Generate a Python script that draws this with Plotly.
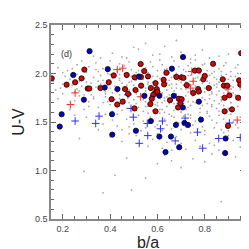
import plotly.graph_objects as go

# ---- data ----
red_x = [0.153, 0.216, 0.252, 0.279, 0.291, 0.305, 0.312, 0.359, 0.394, 0.415,
         0.406, 0.430, 0.453, 0.463, 0.470, 0.476, 0.504, 0.503, 0.530, 0.507,
         0.529, 0.544, 0.560, 0.531, 0.592, 0.572, 0.597, 0.590, 0.600, 0.582,
         0.576, 0.570, 0.592, 0.626, 0.628, 0.638, 0.653, 0.680, 0.702, 0.710,
         0.690, 0.702, 0.687, 0.697, 0.724, 0.758, 0.775, 0.751, 0.772, 0.775,
         0.794, 0.800, 0.817, 0.835, 0.876, 0.881, 0.895, 0.884, 0.904, 0.884,
         0.915, 0.941, 0.954, 0.945, 0.950, 0.898]
red_y = [1.95, 1.885, 1.91, 1.95, 2.04, 1.845, 1.845, 1.85, 1.91, 1.98,
         1.735, 1.68, 1.71, 1.84, 1.985, 1.79, 1.96, 1.64, 1.965, 1.83,
         2.098, 2.025, 1.97, 1.875, 1.90, 1.85, 1.84, 1.80, 1.81, 1.78,
         1.74, 1.685, 1.61, 1.935, 1.888, 2.008, 1.725, 1.965, 1.96, 1.955,
         1.74, 1.735, 1.65, 1.695, 1.88, 2.03, 2.03, 1.80, 1.84, 1.815,
         1.94, 1.975, 1.85, 2.10, 1.94, 1.875, 1.875, 1.75, 1.775, 1.61,
         1.63, 1.75, 2.21, 1.93, 1.885, 1.46]

blue_x = [0.313, 0.244, 0.390, 0.521, 0.708, 0.661, 0.195, 0.187, 0.289, 0.377,
          0.431, 0.408, 0.409, 0.545, 0.608, 0.669, 0.707, 0.775, 0.572, 0.509,
          0.608, 0.678, 0.714, 0.729, 0.784, 0.657, 0.692, 0.634, 0.888, 0.886,
          0.966]
blue_y = [2.23, 1.985, 2.045, 1.968, 2.17, 2.05, 1.58, 1.453, 1.73, 1.855,
          1.84, 1.58, 1.37, 1.77, 1.77, 1.77, 1.65, 1.71, 1.51, 1.41,
          1.35, 1.47, 1.49, 1.47, 1.525, 1.35, 1.24, 1.19, 1.33, 1.18,
          1.07]

red_plus_x = [0.232, 0.252, 0.430, 0.453, 0.529, 0.745, 0.751, 0.740, 0.697, 0.898, 0.937]
red_plus_y = [1.68, 1.80, 2.04, 2.055, 1.76, 2.02, 1.92, 1.85, 1.69, 1.84, 1.52]

blue_plus_x = [0.252, 0.353, 0.339, 0.498, 0.523, 0.559, 0.557, 0.488, 0.621, 0.613,
               0.717, 0.675, 0.769, 0.791, 0.859, 0.904, 0.950, 0.475]
blue_plus_y = [1.51, 1.56, 1.485, 1.55, 1.28, 1.36, 1.485, 1.64, 1.51, 1.43,
               1.54, 1.305, 1.395, 1.23, 1.33, 1.49, 1.34, 1.78]

gray_x = [
    0.33, 0.41, 0.47, 0.52, 0.58, 0.63, 0.66, 0.70, 0.76, 0.82,
    0.36, 0.45, 0.55, 0.61, 0.68, 0.74, 0.79, 0.86, 0.90, 0.50,
    0.18, 0.22, 0.26, 0.30, 0.34, 0.37, 0.40, 0.43, 0.46, 0.49,
    0.52, 0.55, 0.57, 0.60, 0.62, 0.64, 0.67, 0.69, 0.72, 0.74,
    0.77, 0.79, 0.81, 0.84, 0.86, 0.88, 0.91, 0.93, 0.20, 0.28,
    0.35, 0.44, 0.51, 0.58, 0.65, 0.71, 0.76, 0.83, 0.89, 0.94,
    0.31, 0.39, 0.48, 0.54, 0.61, 0.68, 0.73, 0.80, 0.87, 0.24,
    0.16, 0.19, 0.21, 0.24, 0.27, 0.29, 0.32, 0.34, 0.36, 0.38,
    0.40, 0.42, 0.44, 0.46, 0.48, 0.50, 0.52, 0.54, 0.56, 0.58,
    0.60, 0.62, 0.64, 0.66, 0.68, 0.70, 0.72, 0.74, 0.76, 0.78,
    0.80, 0.82, 0.84, 0.86, 0.88, 0.90, 0.92, 0.94, 0.17, 0.23,
    0.26, 0.31, 0.35, 0.39, 0.43, 0.47, 0.51, 0.55, 0.59, 0.63,
    0.67, 0.71, 0.75, 0.79, 0.83, 0.87, 0.91, 0.95, 0.20, 0.28,
    0.33, 0.37, 0.41, 0.45, 0.49, 0.53, 0.57, 0.61, 0.65, 0.69,
    0.73, 0.77, 0.81, 0.85, 0.89, 0.93, 0.25, 0.30, 0.44, 0.58,
    0.62, 0.66, 0.70, 0.74, 0.78, 0.82, 0.86, 0.90, 0.52, 0.48,
    0.36, 0.40, 0.55, 0.64, 0.68, 0.72, 0.79, 0.84, 0.92, 0.96,
    0.18, 0.22, 0.27, 0.31, 0.35, 0.38, 0.42, 0.45, 0.48, 0.51,
    0.53, 0.56, 0.58, 0.61, 0.63, 0.65, 0.68, 0.70, 0.73, 0.75,
    0.78, 0.80, 0.83, 0.85, 0.88, 0.91, 0.94, 0.20, 0.25, 0.33,
    0.40, 0.44, 0.47, 0.50, 0.54, 0.57, 0.60, 0.64, 0.67, 0.71,
    0.74, 0.77, 0.81, 0.84, 0.87, 0.90, 0.93, 0.29, 0.37, 0.46,
    0.52, 0.55, 0.59, 0.62, 0.66, 0.69, 0.72, 0.76, 0.79, 0.82,
    0.86, 0.89, 0.92, 0.95, 0.23, 0.41, 0.49, 0.57, 0.63, 0.70,
    0.78, 0.85, 0.60, 0.54, 0.65, 0.73, 0.81, 0.88, 0.44, 0.58,
    0.30, 0.38, 0.43, 0.47, 0.52, 0.55, 0.58, 0.61, 0.64, 0.67,
    0.70, 0.73, 0.76, 0.79, 0.82, 0.85, 0.88, 0.91, 0.94, 0.50,
    0.56, 0.62, 0.68, 0.74, 0.80, 0.86, 0.92, 0.45, 0.59, 0.65,
    0.71, 0.77, 0.83, 0.89, 0.53, 0.95, 0.41, 0.63, 0.75, 0.87,
    0.25, 0.35, 0.69, 0.81, 0.93,
    0.27, 0.45, 0.51, 0.56, 0.60, 0.64, 0.68, 0.72, 0.76, 0.80,
    0.84, 0.88, 0.92, 0.95, 0.58, 0.66, 0.74, 0.82, 0.90, 0.40,
    0.62, 0.70, 0.86, 0.48, 0.78,
    0.29, 0.37, 0.42, 0.55, 0.63, 0.70, 0.75, 0.80, 0.87, 0.93,
    0.49, 0.60, 0.83, 0.47, 0.66,
    0.32, 0.34, 0.38, 0.41, 0.43, 0.46, 0.49, 0.51, 0.53, 0.56,
    0.59, 0.61, 0.63, 0.66, 0.69, 0.71, 0.73, 0.76, 0.78, 0.81,
    0.83, 0.85, 0.87, 0.89, 0.92, 0.94, 0.22, 0.26, 0.29, 0.37,
    0.39, 0.42, 0.47, 0.50, 0.54, 0.57, 0.60, 0.62, 0.65, 0.67,
    0.70, 0.72, 0.75, 0.77, 0.80, 0.82, 0.85, 0.88, 0.91, 0.93,
    0.35, 0.44, 0.48, 0.52, 0.56, 0.60, 0.64, 0.68, 0.72, 0.76,
    0.80, 0.84, 0.88, 0.64, 0.58, 0.46, 0.40, 0.33, 0.27, 0.71,
    0.55, 0.59, 0.63, 0.67, 0.75, 0.79, 0.83, 0.87, 0.91, 0.95,
    0.43, 0.51, 0.57, 0.62, 0.66, 0.70, 0.74, 0.78, 0.86, 0.90,
    0.48, 0.54, 0.60, 0.66, 0.72, 0.78, 0.84, 0.90, 0.37, 0.31,
]
gray_y = [
    2.18, 2.21, 2.16, 2.25, 2.19, 2.28, 2.17, 2.22, 2.19, 2.16,
    2.16, 2.17, 2.31, 2.20, 2.34, 2.15, 2.24, 2.18, 2.20, 2.27,
    2.06, 2.03, 2.09, 2.01, 2.11, 2.05, 2.13, 2.02, 2.08, 2.04,
    2.10, 2.06, 2.12, 2.03, 2.09, 2.05, 2.13, 2.07, 2.02, 2.11,
    2.06, 2.09, 2.03, 2.12, 2.05, 2.08, 2.02, 2.06, 2.01, 2.13,
    2.02, 2.10, 2.01, 2.07, 2.01, 2.04, 2.14, 2.00, 2.11, 2.09,
    2.07, 2.00, 2.12, 2.03, 2.14, 2.00, 2.08, 2.10, 2.02, 2.05,
    1.92, 1.85, 1.97, 1.88, 1.82, 1.95, 1.90, 1.86, 1.98, 1.81,
    1.93, 1.87, 1.99, 1.84, 1.91, 1.88, 1.82, 1.94, 1.89, 1.97,
    1.86, 1.92, 1.83, 1.96, 1.89, 1.84, 1.91, 1.98, 1.87, 1.93,
    1.85, 1.90, 1.96, 1.82, 1.88, 1.94, 1.80, 1.91, 1.83, 1.94,
    1.99, 1.83, 1.92, 1.88, 1.81, 1.96, 1.93, 1.85, 1.80, 1.99,
    1.82, 1.97, 1.84, 1.90, 1.81, 1.98, 1.87, 1.84, 1.89, 1.87,
    1.96, 1.84, 1.80, 1.90, 1.97, 1.89, 1.83, 1.95, 1.88, 1.93,
    1.81, 1.96, 1.92, 1.86, 1.83, 1.97, 1.81, 1.91, 1.95, 1.91,
    1.80, 1.89, 1.99, 1.88, 1.82, 1.98, 1.91, 1.85, 1.99, 1.83,
    1.89, 1.85, 1.82, 1.90, 1.85, 1.86, 1.97, 1.88, 1.93, 1.81,
    1.74, 1.68, 1.77, 1.71, 1.65, 1.79, 1.73, 1.62, 1.76, 1.69,
    1.78, 1.66, 1.72, 1.63, 1.75, 1.69, 1.79, 1.61, 1.71, 1.77,
    1.64, 1.73, 1.68, 1.78, 1.62, 1.70, 1.66, 1.79, 1.72, 1.76,
    1.68, 1.78, 1.64, 1.73, 1.61, 1.77, 1.70, 1.66, 1.62, 1.74,
    1.67, 1.79, 1.61, 1.72, 1.76, 1.64, 1.78, 1.63, 1.70, 1.71,
    1.65, 1.71, 1.76, 1.79, 1.73, 1.67, 1.63, 1.70, 1.75, 1.78,
    1.69, 1.74, 1.62, 1.72, 1.63, 1.61, 1.79, 1.68, 1.60, 1.76,
    1.60, 1.64, 1.67, 1.75, 1.78, 1.65, 1.69, 1.67, 1.74, 1.62,
    1.55, 1.58, 1.46, 1.53, 1.57, 1.44, 1.52, 1.59, 1.47, 1.55,
    1.42, 1.58, 1.51, 1.45, 1.56, 1.49, 1.53, 1.58, 1.44, 1.48,
    1.59, 1.41, 1.50, 1.54, 1.41, 1.57, 1.50, 1.42, 1.45, 1.58,
    1.56, 1.43, 1.52, 1.46, 1.41, 1.55, 1.52, 1.53, 1.47, 1.42,
    1.57, 1.42, 1.49, 1.59, 1.47,
    1.33, 1.30, 1.36, 1.25, 1.38, 1.29, 1.35, 1.22, 1.31, 1.37,
    1.26, 1.39, 1.31, 1.24, 1.32, 1.21, 1.39, 1.28, 1.36, 1.35,
    1.23, 1.28, 1.21, 1.38, 1.25,
    0.99, 0.77, 0.95, 0.92, 1.16, 1.03, 1.12, 1.09, 0.68, 1.14,
    0.80, 1.07, 1.17, 1.13, 1.10,
    1.78, 2.04, 1.76, 1.95, 1.86, 1.73, 1.92, 1.79, 1.87, 2.01,
    1.93, 1.77, 2.04, 1.85, 1.76, 1.88, 1.98, 1.79, 2.00, 1.87,
    1.79, 1.94, 1.72, 1.99, 1.86, 2.00, 1.90, 1.84, 1.78, 1.93,
    1.71, 1.83, 1.88, 1.95, 1.73, 1.98, 1.83, 1.70, 1.93, 1.98,
    1.91, 1.77, 1.92, 1.86, 1.95, 1.74, 1.89, 1.95, 1.97, 1.77,
    1.87, 1.93, 1.70, 2.03, 1.91, 1.97, 1.76, 1.94, 1.84, 1.95,
    1.81, 2.02, 1.80, 2.02, 1.86, 2.00, 1.99, 1.74, 1.92, 1.72,
    1.66, 1.68, 1.72, 1.69, 1.71, 1.67, 1.66, 1.73, 1.70, 1.94,
    1.58, 1.62, 1.55, 1.63, 1.56, 1.60, 1.57, 1.55, 1.61, 1.63,
    1.45, 1.51, 1.47, 1.43, 1.45, 1.50, 1.44, 1.41, 1.48, 1.66,
]

x_tick_vals = [0.2, 0.4, 0.6, 0.8]
x_tick_text = ["0.2", "0.4", "0.6", "0.8"]
y_tick_vals = [0.5, 1.0, 1.5, 2.0, 2.5]
y_tick_text = ["0.5", "1.0", "1.5", "2.0", "2.5"]

fig = go.Figure()
fig.add_trace(go.Scatter(x=gray_x, y=gray_y, mode="markers",
                         marker=dict(size=1.8, color="#a8a8a8", line=dict(width=0)),
                         hoverinfo="skip"))
fig.add_trace(go.Scatter(x=blue_plus_x, y=blue_plus_y, mode="markers",
                         marker=dict(symbol="cross-thin", size=5.5, color="#3030ff",
                                     line=dict(width=1, color="#3030ff"))))
fig.add_trace(go.Scatter(x=red_plus_x, y=red_plus_y, mode="markers",
                         marker=dict(symbol="cross-thin", size=5.5, color="#ff2a2a",
                                     line=dict(width=1, color="#ff2a2a"))))
fig.add_trace(go.Scatter(x=red_x, y=red_y, mode="markers",
                         marker=dict(symbol="circle", size=5.2, color="#e00000",
                                     line=dict(width=0.9, color="#111111"))))
fig.add_trace(go.Scatter(x=blue_x, y=blue_y, mode="markers",
                         marker=dict(symbol="circle", size=5.2, color="#0000c8",
                                     line=dict(width=0.9, color="#111111"))))

fig.add_annotation(x=0.215, y=2.205, text="(d)", showarrow=False,
                   font=dict(size=9, color="#333333", family="Liberation Sans"))

axis_common = dict(showgrid=False, zeroline=False, showline=True, linecolor="#888888",
                   linewidth=1.5, mirror="ticks", ticks="inside", ticklen=5,
                   tickwidth=1, tickcolor="#666666",
                   tickfont=dict(size=9, color="#444444", family="Liberation Sans"))

fig.update_xaxes(range=[0.15, 0.97], tickvals=x_tick_vals, ticktext=x_tick_text,
                 minor=dict(dtick=0.05, tick0=0.0, ticks="inside", ticklen=3, tickcolor="#666666"),
                 title=dict(text="b/a", font=dict(size=16, color="#222222", family="Liberation Sans"),
                            standoff=2),
                 **axis_common)
fig.update_yaxes(range=[0.5, 2.5], tickvals=y_tick_vals, ticktext=y_tick_text,
                 minor=dict(dtick=0.1, tick0=0.0, ticks="inside", ticklen=3, tickcolor="#666666"),
                 title=dict(text="U-V", font=dict(size=16, color="#222222", family="Liberation Sans"),
                            standoff=6),
                 **axis_common)

fig.update_layout(width=249, height=249, margin=dict(l=39, r=10, t=17, b=32),
                  paper_bgcolor="white", plot_bgcolor="white", showlegend=False)

fig.write_html("out.html")
